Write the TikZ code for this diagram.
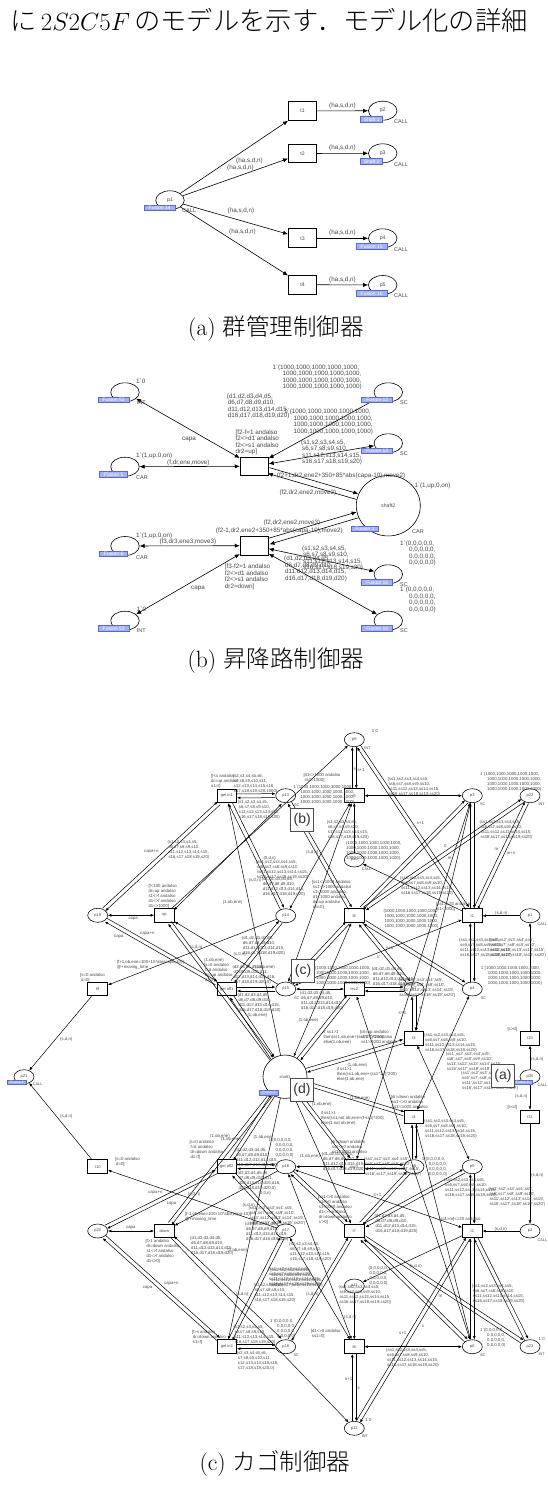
\documentclass[tikz,border=0pt]{standalone}
\usepackage{fontspec}
\usetikzlibrary{shapes.geometric,arrows.meta,calc}
\newfontfamily\lab{Liberation Sans}
\newfontfamily\cjk{Noto Sans CJK JP Light}
\definecolor{tagb}{HTML}{5468D8}
\definecolor{tagf}{HTML}{A4B0F2}
\definecolor{txt}{HTML}{484848}
\newcounter{lc}
\newcommand\IN{\hspace*{1pt}}
\newcommand\BL[2]{(#11#2,#12#2,#13#2,#14#2,#15#2,\\\IN #16#2,#17#2,#18#2,#19#2,#110#2,\\\IN #111#2,#112#2,#113#2,#114#2,#115#2,\\\IN #116#2,#117#2,#118#2,#119#2,#120#2)}
\newcommand\BS[2]{(#12,#13,#14,#15,#16,\\\IN #17,#18,#19,#110,#111,\\\IN #112,#113,#114,#115,#116,\\\IN #117,#118,#119,#120,#2)}
\newcommand\Ta[2]{\stepcounter{lc}\node[laba] (lab\thelc) at (#1) {#2};}
\newcommand\Tc[2]{\stepcounter{lc}\node[labc] (lab\thelc) at (#1) {#2};}
\newcommand\Ya[2]{\stepcounter{lc}\node[laba,font=\lab\fontsize{5.5}{6}\selectfont] (lab\thelc) at (#1) {#2};}
\newcommand\Yc[2]{\stepcounter{lc}\node[labc,font=\lab\fontsize{3.8}{5}\selectfont] (lab\thelc) at (#1) {#2};}
% pair of opposite arcs drawn side by side between two named nodes
\newcommand\PR[2]{\path (#1) -- coordinate[pos=0] (xA) coordinate[pos=1] (xB) (#2);
 \draw[arc] ($(xA)!\pairoff!90:(xB)$) -- ($(xB)!\pairoff!-90:(xA)$);
 \draw[arc] ($(xB)!\pairoff!90:(xA)$) -- ($(xA)!\pairoff!-90:(xB)$);}
\newcommand\pairoff{2pt}
\tikzset{
 arc/.style={line width=.6pt,black,-{Latex[length=5pt,width=4.2pt]}},
 barc/.style={line width=.6pt,black,{Latex[length=5pt,width=4.2pt]}-{Latex[length=5pt,width=4.2pt]}},
 plc/.style={ellipse,draw,fill=white,line width=.6pt,minimum width=28.5pt,minimum height=19pt,inner sep=0pt,font=\lab\fontsize{5.2}{6}\selectfont,text=txt},
 trn/.style={rectangle,draw,fill=white,line width=.9pt,minimum width=28pt,minimum height=18.7pt,inner sep=0pt,font=\lab\fontsize{5.2}{6}\selectfont,text=txt},
 plcc/.style={ellipse,draw,fill=white,line width=.55pt,minimum width=20pt,minimum height=14pt,inner sep=0pt,font=\lab\fontsize{4}{5}\selectfont,text=txt},
 trnc/.style={rectangle,draw,fill=white,line width=.9pt,minimum width=19.7pt,minimum height=13.7pt,inner sep=0pt,font=\lab\fontsize{4}{5}\selectfont,text=txt},
 laba/.style={anchor=north west,align=left,inner sep=0pt,text=txt,font=\lab\fontsize{6.3}{6.5}\selectfont},
 labc/.style={anchor=north west,align=left,inner sep=0pt,text=txt,font=\lab\fontsize{4.3}{5}\selectfont},
 tag/.style={rectangle,draw=tagb,fill=tagf,line width=.7pt,text=white,inner sep=0pt,minimum height=5.5pt,font=\lab\fontsize{5}{5}\selectfont},
 tagc/.style={rectangle,draw=tagb,fill=tagf,line width=.6pt,text=white,inner sep=0pt,minimum height=4.4pt,minimum width=19pt,font=\lab\fontsize{3.4}{4}\selectfont},
 capt/.style={inner sep=0pt,font=\fontsize{23.5}{25}\selectfont},
 ovl/.style={rectangle,draw=black!70,fill=white,line width=.8pt,minimum size=23pt,inner sep=0pt,font=\lab\fontsize{14}{15}\selectfont,text=black!80},
}
\begin{document}
\begin{tikzpicture}[x=1pt,y=-1pt]
\useasboundingbox[fill=white] (0,0) rectangle (547,1495);
% running text and captions
\node[inner sep=0pt,anchor=base west,font=\fontsize{26.3}{28}\selectfont] (head) at (10,31) {{\cjk に}\,$2S2C5F$\,{\cjk のモデルを示す．モデル化の詳細}};
\node[capt] (capa) at (276,329) {(a) {\cjk 群管理制御器}};
\node[capt] (capb) at (276,661) {(b) {\cjk 昇降路制御器}};
\node[capt] (capc) at (275,1463) {(c) {\cjk カゴ制御器}};
% ---------- panel a
\node[plc] (ap1) at (170,200.3) {p1};
\node[plc] (ap2) at (382.7,110.7) {p2};
\node[plc] (ap3) at (382.7,153.3) {p3};
\node[plc] (ap4) at (382.7,238.3) {p4};
\node[plc] (ap5) at (382.7,285) {p5};
\node[trn] (at1) at (302.5,111) {t1};
\node[trn] (at2) at (302.5,153.5) {t2};
\node[trn] (at3) at (302.5,238.3) {t3};
\node[trn] (at4) at (302.5,284.7) {t4};
\foreach \i in {1,2,3,4} {\draw[arc] (ap1) -- (at\i);}
\draw[arc] (at1) -- (ap2);
\draw[arc] (at2) -- (ap3);
\draw[arc] (at3) -- (ap4);
\draw[arc] (at4) -- (ap5);
\Ta{329,103}{(ha,s,d,n)}
\Ta{329,145}{(ha,s,d,n)}
\Ta{329,230}{(ha,s,d,n)}
\Ta{329,277}{(ha,s,d,n)}
\Ta{236,158}{(ha,s,d,n)}
\Ta{227,165}{(ha,s,d,n)}
\Ta{227.5,208}{(ha,s,d,n)}
\Ta{229,229}{(ha,s,d,n)}
\Ya{182,208.5}{CALL}
\Ya{394,119.5}{CALL}
\Ya{394,162.5}{CALL}
\Ya{394,247.5}{CALL}
\Ya{394,293.5}{CALL}
\node[tag,minimum width=31pt] (atg1) at (159.7,208) {Fusion 14};
\node[tag,minimum width=22pt] (atg2) at (371.7,119.3) {Shaft 1};
\node[tag,minimum width=22pt] (atg3) at (371.7,161.5) {Shaft 2};
\node[tag,minimum width=31pt] (atg4) at (371.7,246.3) {Fusion 15};
\node[tag,minimum width=31pt] (atg5) at (371.7,293.3) {Fusion 16};
% ---------- panel b
\node[plc] (bi1) at (125,392.3) {};
\node[plc] (bc1) at (125,466.7) {};
\node[plc] (bc2) at (125,546) {};
\node[plc] (bi2) at (125,620.7) {};
\node[plc] (bs1) at (388.3,392.3) {};
\node[plc] (bs2) at (388.3,443.3) {};
\node[plc] (bs3) at (388.3,574.3) {};
\node[plc] (bs4) at (388.3,620.7) {};
\node[trn] (bt1) at (254.2,466.3) {};
\node[trn] (bt2) at (254.2,545.7) {};
\node[ellipse,draw,fill=white,line width=.6pt,minimum width=64pt,minimum height=60.5pt,inner sep=0pt,font=\lab\fontsize{5.2}{6}\selectfont,text=txt] (bsh) at (388.3,505.7) {shaft2};
\draw[barc] (bi1) -- (bt1);
\draw[barc] (bc1) -- (bt1);
\draw[barc] (bs1) -- (bt1);
\draw[barc] (bs2) -- (bt1);
\draw[barc] (bi2) -- (bt2);
\draw[barc] (bc2) -- (bt2);
\draw[barc] (bs3) -- (bt2);
\draw[barc] (bs4) -- (bt2);
\renewcommand\pairoff{3pt}
\PR{bt1}{bsh}
\PR{bt2}{bsh}
\renewcommand\pairoff{2pt}
\Ta{136,378.3}{1`0}
\Ya{136.7,401}{INT}
\Ta{182,436.7}{capa}
\Ta{136,452.7}{1`(1,up,0,on)}
\Ya{136,475.7}{CAR}
\Ta{167,459.7}{(f,dr,ene,move)}
\Ta{226.7,393.3}{\BL{d}{}}
\Ta{235.3,429.3}{[f2-f=1 andalso\\f2<>d1 andalso\\f2<>s1 andalso\\dr2=up]}
\Ta{272.3,364.3}{1`(1000,1000,1000,1000,1000,\\\hspace*{10pt}1000,1000,1000,1000,1000,\\\hspace*{10pt}1000,1000,1000,1000,1000,\\\hspace*{10pt}1000,1000,1000,1000,1000)}
\Ta{284,409}{1`(1000,1000,1000,1000,1000,\\\hspace*{9.5pt}1000,1000,1000,1000,1000,\\\hspace*{9.5pt}1000,1000,1000,1000,1000,\\\hspace*{9.5pt}1000,1000,1000,1000,1000)}
\Ya{400,400.7}{SC}
\Ya{400,451.7}{SC}
\Ta{301,439.3}{\BL{s}{}}
\Ta{276.7,472.7}{(f2+1,dr2,ene2+350+85*abs(capa-10),move2)}
\Ta{279.3,489.3}{(f2,dr2,ene2,move2)}
\Ta{414.3,482.7}{1`(1,up,0,on)}
\Ya{412,529.7}{CAR}
\Ta{263.3,520}{(f2,dr2,ene2,move3)}
\Ta{215.7,527.7}{(f2-1,dr2,ene2+350+85*abs(capa-10),move2)}
\Ta{136,532.7}{1`(1,up,0,on)}
\Ta{159.3,539}{(f3,dr3,ene3,move3)}
\Ya{136,555}{CAR}
\Ta{191,585.7}{capa}
\Ta{224.7,564}{[f3-f2=1 andalso\\f2<>d1 andalso\\f2<>s1 andalso\\dr2=down]}
\Ta{302,545.7}{\BL{s}{}}
\Ta{284,556}{\BL{d}{}}
\Ta{400,540.3}{1`(0,0,0,0,0,\\\hspace*{9pt}0,0,0,0,0,\\\hspace*{9pt}0,0,0,0,0,\\\hspace*{9pt}0,0,0,0,0)}
\Ya{400,582.7}{SC}
\Ta{400,586.7}{1`(0,0,0,0,0,\\\hspace*{9pt}0,0,0,0,0,\\\hspace*{9pt}0,0,0,0,0,\\\hspace*{9pt}0,0,0,0,0)}
\Ya{400,628.7}{SC}
\Ta{136.7,606.7}{1`0}
\Ya{136.7,628.7}{INT}
\node[tag,minimum width=31pt] (btg1) at (113.7,400) {Fusion 52};
\node[tag,minimum width=28pt] (btg2) at (113.7,474.3) {Fusion 5};
\node[tag,minimum width=28pt] (btg3) at (113.7,553.7) {Fusion 6};
\node[tag,minimum width=31pt] (btg4) at (113.7,628.3) {Fusion 53};
\node[tag,minimum width=31pt] (btg5) at (377.3,400) {Fusion 12};
\node[tag,minimum width=31pt] (btg6) at (377.3,451) {Fusion 13};
\node[tag,minimum width=31pt] (btg7) at (377.3,582.3) {Fusion 15};
\node[tag,minimum width=31pt] (btg8) at (377.3,628.3) {Fusion 16};
\node[tag,minimum width=27pt] (btg9) at (365,528.7) {Fusion 1};
% ---------- panel c nodes
\foreach \n/\x/\y in {p9/354.3/739.7,p13/285.7/795.7,p3/472.3/795.7,p22/530/795.7,p10/354.3/860,p14/285.7/915.7,p1/530/915.7,p15/285.7/989,p7/414/989,p4/472.3/989,p19/97.7/915.3,p20/97.7/1231,p21/24/1076.7,p16/285.7/1166.7,p8/414/1166.7,p5/472.3/1166.7,p30/530/1076.7,p17/285.7/1231,p2/530/1231,p11/354.3/1286,p18/285.7/1346.7,p6/472.3/1346.7,p23/530/1346.7,p12/354.3/1428.3}
  {\node[plcc] (\n) at (\x,\y) {\n};}
\foreach \n/\t/\x/\y in {gin1/get in1/226.8/795.8,goff1/get off1/226.8/989,gin2/get in2/226.8/1346.7,goff2/get off2/226.8/1166.7,up/up/164.3/915.3,down/down/164.3/1231,t9/t9/97.7/989,t10/t10/97.7/1166.7,t5/t5/354.3/795.7,t6/t6/354.3/915.7,t1/t1/472.3/915.7,rec2/rec2/354.3/989,t3/t3/414/1038.3,t30/t30/530/1038.3,t4/t4/414/1117,t31/t31/530/1117,rec3/rec3/354.3/1166.7,t7/t7/354.3/1231,t2/t2/472.3/1231,t8/t8/354.3/1346.7}
  {\node[trnc] (\n) at (\x,\y) {\t};}
\node[ellipse,draw,fill=white,line width=.6pt,minimum width=44pt,minimum height=43.4pt,inner sep=0pt,font=\lab\fontsize{4}{5}\selectfont,text=txt] (shaft1) at (285,1076.7) {shaft1};
% ---------- panel c connectors
\tikzset{arc/.style={line width=.5pt,black,-{Latex[length=3.3pt,width=2.8pt]}},barc/.style={line width=.5pt,black,{Latex[length=3.3pt,width=2.8pt]}-{Latex[length=3.3pt,width=2.8pt]}}}
\foreach \a/\b in {p19/gin1,p19/goff1,p20/goff2,p20/gin2,up/shaft1,down/shaft1,gin1/p13,gin1/p14,goff1/p15,goff1/p14,goff2/p16,goff2/p17,gin2/p18,gin2/p17,goff1/shaft1,goff2/shaft1,p13/t6,t5/p9,p9/t1,t6/p3,t6/p22,t6/p4,t6/p7,t6/p15,rec2/p7,rec2/shaft1,t3/p7,t3/shaft1,t4/shaft1,t4/p8,rec3/p8,rec3/shaft1,p16/t7,p18/t7,t7/p8,t7/p5,t7/p6,t7/p23,p3/t1,p22/t1,p4/t1,p5/t2,p6/t2,p23/t2,p12/t2,p12/t8}
  {\PR{\a}{\b}}
\foreach \a/\b in {p15/up,p14/t9,t9/p21,t10/p21,p17/t10,p16/down,shaft1/gin1,shaft1/gin2,up/p9,down/p12,p10/t5,t1/p10,p1/t1,t30/p1,p30/t30,p30/t31,t31/p2,p2/t2,t2/p11,p11/t8}
  {\draw[arc] (\a) -- (\b);}
\foreach \a/\b in {p19/up,p20/down,t5/p3,t5/p14,t5/p15,shaft1/t6,shaft1/t7,p15/rec2,rec2/p6,rec3/p3,p16/rec3,p3/t3,p4/t4,t3/p5,p6/t4,p15/t1,p16/t2,t8/p6,t8/p16,t8/p17}
  {\draw[barc] (\a) -- (\b);}
\path (up) -- coordinate[pos=0] (xA) coordinate[pos=1] (xB) (p13);
\draw[barc] ($(xA)!3pt!-90:(xB)$) -- ($(xB)!3pt!90:(xA)$);
\path (down) -- coordinate[pos=0] (xA) coordinate[pos=1] (xB) (p18);
\draw[barc] ($(xA)!3pt!90:(xB)$) -- ($(xB)!3pt!-90:(xA)$);
% ---------- panel c labels, upper half
\Tc{211,774}{[f<s andalso\\dr=up andalso\\s1=f]}
\Tc{232.7,774}{\BS{s}{1000}}
\Tc{237.7,800}{\BL{s}{}}
\Tc{144,850}{capa+n}
\Tc{167.3,840}{\BL{s}{}}
\Tc{148.3,883.7}{[f<100 andalso\\dr=up andalso\\s1<>f andalso\\d1<>f andalso\\d1<>1000]}
\Tc{128.3,917}{capa}
\Tc{114,935.3}{capa}
\Tc{140,932}{capa+n}
\Tc{222.7,899.7}{(1,ob,ene)}
\Tc{190,945}{(s,d,n)}
\Tc{233.3,952.3}{(s,0,n)}
\Tc{248.7,878}{(s,0,n)}
\Tc{116.7,960}{[f+1,ob,ene=100+10*abs(capa-10)]\\@+moving\_time}
\Tc{80,972.7}{[s=0 andalso\\\IN d=0]}
\Tc{60,1036.7}{(s,d,n)}
\Tc{204,958}{(1,ob,ene)}
\Tc{204,962.7}{[s=0 andalso\\\IN f=d andalso\\\IN dr=up andalso\\\IN d1=f]}
\Tc{232.3,965}{\BS{d}{0}}
\Tc{241.7,936}{\BL{d}{}}
\Tc{237.3,993.3}{\BL{d}{}}
\Tc{247.3,1012.7}{(1,ob,ene)}
\Tc{255,965.3}{(1,ob,ene)}
\Tc{263.3,855.7}{(0,d,n)}
\Tc{255.7,860}{\BL{ss}{}}
\Tc{261.7,876.7}{\BL{d}{}}
\Tc{371.7,729.3}{1`0}
\Yc{364,746.7}{INT}
\Tc{353.3,768.3}{s}
\Tc{357.3,768.3}{s+1}
\Tc{303.3,773.3}{[d1<>1000 andalso\\\IN ss1=1000]}
\Tc{387.3,776.7}{\BL{ss}{}}
\Yc{480,803}{SC}
\Yc{538.3,803}{INT}
\Tc{480,771.7}{1`(1000,1000,1000,1000,1000,\\\hspace*{7pt}1000,1000,1000,1000,1000,\\\hspace*{7pt}1000,1000,1000,1000,1000,\\\hspace*{7pt}1000,1000,1000,1000,1000)}
\Tc{293.3,785}{1`(1000,1000,1000,1000,1000,\\\hspace*{7pt}1000,1000,1000,1000,1000,\\\hspace*{7pt}1000,1000,1000,1000,1000,\\\hspace*{7pt}1000,1000,1000,1000,1000)}
\Yc{294,803.3}{SC}
\Tc{326.7,820}{\BL{s}{}}
\Tc{346,840.7}{(1000,1000,1000,1000,1000,\\1000,1000,1000,1000,1000,\\1000,1000,1000,1000,1000,\\1000,1000,1000,1000,1000)}
\Yc{361.7,868}{CALL}
\Tc{306,850}{(s,d,n)}
\Tc{416.7,821.7}{s+1}
\Tc{311.7,880}{[ss1<>1000 andalso\\\IN ss1'<>1000 andalso\\\IN s1<1000 andalso\\\IN d1<1000 andalso\\\IN dr=up andalso\\\IN ob=0]}
\Tc{400,876}{\BL{ss}{}}
\Tc{444,844}{0}
\Tc{447.7,857.3}{m}
\Tc{494.3,848.3}{m}
\Tc{506.7,852}{m+n}
\Tc{479.3,820}{\BL{ss}{}}
\Tc{436,901.7}{[ss1>=20 andalso\\\IN s1<1000]}
\Tc{495,910.7}{(s,d,n)}
\Yc{537.3,922.7}{CALL}
\Tc{383.3,909.3}{(1000,1000,1000,1000,1000,\\\IN 1000,1000,1000,1000,1000,\\\IN 1000,1000,1000,1000,1000,\\\IN 1000,1000,1000,1000,1000)}
\Tc{459,937.7}{\BL{ss}{}}
\Tc{489,937.7}{\BL{ss}{'}}
\Tc{480.7,965.7}{1`(1000,1000,1000,1000,1000,\\\hspace*{7pt}1000,1000,1000,1000,1000,\\\hspace*{7pt}1000,1000,1000,1000,1000,\\\hspace*{7pt}1000,1000,1000,1000,1000)}
\Yc{480.7,996.7}{SC}
\Tc{398.3,978.3}{\BL{ss}{'}}
\Tc{371.7,967.3}{\BL{d}{}}
\Tc{300,990.7}{\BL{d}{}}
\Yc{294,996.7}{SC}
\Tc{315,965.7}{(1000,1000,1000,1000,1000,\\\IN 1000,1000,1000,1000,1000,\\\IN 1000,1000,1000,1000,1000,\\\IN 1000,1000,1000,1000,1000)}
\Tc{298.3,1018.3}{(1,ob,ene)}
\Tc{323.3,1030}{if ss1>1\\then(ss1,ob,ene+(ss1*1-f)*200)\\else(1,ob,ene)}
\Tc{360,1030}{[dr=up andalso\\\IN ss1'<>0 andalso\\\IN ss1'<1000 andalso}
\Tc{424,1033.3}{\BL{ss}{}}
\Tc{445.7,1052.3}{\BL{ss}{'}}
\Tc{386,946.7}{s+1}
\Tc{376.7,955}{s'}
\Tc{398.3,1011.7}{s'+1}
\Tc{419,1006.7}{s'}
\Tc{507.3,1026.7}{[s>d]}
\Tc{531,1056.7}{(s,d,n)}
% ---------- panel c labels, lower half
\Tc{515,1094.3}{(s,d,n)}
\Tc{507.3,1105}{[s<d]}
\Tc{531,1173.3}{(s,d,n)}
\Yc{537.3,1084}{CALL}
\Yc{537.3,1239}{CALL}
\Tc{461,1070.7}{\BL{ss}{'}}
\Tc{488.3,1186.7}{\BL{ss}{'}}
\Tc{444,1178.3}{\BL{ss}{}}
\Tc{424,1119}{\BL{ss}{}}
\Tc{390.7,1095}{[dr=down andalso\\\IN ss1'<>0 andalso\\\IN ss1'<1000 andalso}
\Tc{350,1095.7}{(1,ob,ene)}
\Tc{336.7,1066.7}{if ss1>1\\then(ss1,ob,ene+(ss1*1-f)*200)\\else(1,ob,ene)}
\Tc{347.3,1063.3}{(1,ob,ene)}
\Tc{311.7,1101.7}{(1,ob,ene)}
\Tc{320.7,1110.7}{if ss1>1\\then(ss1,not ob,ene+(f-ss1)*200)\\else(1,not ob,ene)}
\Tc{330.7,1140}{[dr=down andalso\\\IN ss1<>0 andalso\\\IN ss1<1000 andalso}
\Tc{321.7,1151.7}{\BL{d}{}}
\Tc{300,1154}{(1,ob,ene)}
\Tc{364,1156.7}{\BL{ss}{'}}
\Tc{421.7,1157}{1`(0,0,0,0,0,\\\hspace*{7pt}0,0,0,0,0,\\\hspace*{7pt}0,0,0,0,0,\\\hspace*{7pt}0,0,0,0,0)}
\Tc{317.7,1195}{[ss1<>0 andalso\\\IN s1<>0 andalso\\\IN s1<1000 andalso\\\IN d1<>f andalso\\\IN dr=down andalso\\\IN s'>0]}
\Tc{374.3,1214.3}{\BL{d}{}}
\Tc{373.3,1193}{s'+1}
\Yc{480,1354}{SC}
\Tc{439,1217.3}{[ss1>m]<=20 andalso}
\Tc{494.3,1226.7}{(s,d,n)}
\Tc{368.3,1266}{(0,0,0,0,0,\\\IN 0,0,0,0,0,\\\IN 0,0,0,0,0,\\\IN 0,0,0,0,0)}
\Tc{409.3,1264}{(s,d,n)}
\Tc{438.3,1295}{m}
\Tc{338.3,1285}{\BL{ss}{}}
\Tc{471.7,1284.3}{\BL{ss}{}}
\Tc{306,1291.7}{(s,d,n)}
\Tc{344,1315}{(s,d,n)}
\Tc{310.7,1329.3}{[d1<>0 andalso\\\IN ss1=0]}
\Tc{399,1331}{s+1}
\Tc{421.7,1325}{s}
\Tc{480,1328.3}{1`(0,0,0,0,0,\\\hspace*{7pt}0,0,0,0,0,\\\hspace*{7pt}0,0,0,0,0,\\\hspace*{7pt}0,0,0,0,0)}
\Tc{538.3,1336.7}{1`0}
\Yc{538.3,1353}{INT}
\Tc{386,1348.3}{\BL{ss}{}}
\Yc{293.3,1353.3}{SC}
\Tc{270,1319.3}{1`(0,0,0,0,0,\\\hspace*{7pt}0,0,0,0,0,\\\hspace*{7pt}0,0,0,0,0,\\\hspace*{7pt}0,0,0,0,0)}
\Tc{345,1377.3}{s+1}
\Tc{357.3,1387.3}{s}
\Tc{365,1418.3}{1`0}
\Yc{361.7,1435}{INT}
\Tc{289,1241.7}{\BL{s}{}}
\Tc{270,1267.7}{\BL{ss}{}}
\Tc{115,1156.7}{[s=0 andalso\\\IN d=0]}
\Tc{60,1114}{(s,d,n)}
\Yc{32.7,1082.7}{CALL}
\Tc{210,1134}{(1,ob,ene)}
\Tc{221,1136.7}{(1,ob,ene)}
\Tc{253.3,1135}{(1,ob,ene)}
\Tc{189.3,1140}{[s=0 andalso\\\IN f=d andalso\\\IN dr=down andalso\\\IN d1=f]}
\Tc{235,1148.3}{\BL{d}{}}
\Tc{268.3,1138}{1`(0,0,0,0,0,\\\hspace*{7pt}0,0,0,0,0,\\\hspace*{7pt}0,0,0,0,0,\\\hspace*{7pt}0,0,0,0,0)}
\Tc{237.3,1171}{\BS{d}{0}}
\Tc{187.7,1191.7}{(s,0,n)}
\Tc{258.3,1190.7}{(0,0,n)}
\Tc{148,1191}{capa+n}
\Tc{166.7,1202}{capa}
\Tc{242.3,1203.3}{(s,d,n)}
\Tc{185,1211.7}{[f-1,ob,ene=100+10*abs(capa-10)]\\@+moving\_time}
\Tc{190,1235.7}{\BL{d}{}}
\Tc{227.3,1247.7}{(1,ob,ene)}
\Tc{126,1226}{capa}
\Tc{145.3,1239.3}{[f>1 andalso\\\IN dr=down andalso\\\IN s1<>f andalso\\\IN d1<>f andalso\\\IN d1<>0]}
\Tc{142.7,1285.7}{capa}
\Tc{164,1281.7}{capa+n}
\Tc{236,1291.7}{(s,d,n)}
\Tc{191.7,1330}{[f>s andalso\\\IN dr=down andalso\\\IN s1=f]}
\Tc{236.7,1351}{\BS{s}{0}}
\Tc{233.3,1325}{\BL{s}{}}
\Tc{253.3,1283.3}{\BL{s}{}}
\Tc{268,1266.7}{\BL{ss}{}}
\Tc{248.3,1206}{\BL{ss}{'}}
\Tc{245,1221.7}{\BL{d}{}}
% tags and overlay boxes
\node[tagc] (ctg1) at (17,1082.3) {Fusion 3};
\node[tagc] (ctg2) at (269,1092.7) {Fusion 1};
\node[tagc] (ctg3) at (522.3,1082.3) {Fusion 2};
\node[ovl] (ova) at (503,1076) {(a)};
\node[ovl] (ovb) at (302.3,820) {(b)};
\node[ovl] (ovc) at (303,970.7) {(c)};
\node[ovl] (ovd) at (302,1090) {(d)};
\end{tikzpicture}
\end{document}
